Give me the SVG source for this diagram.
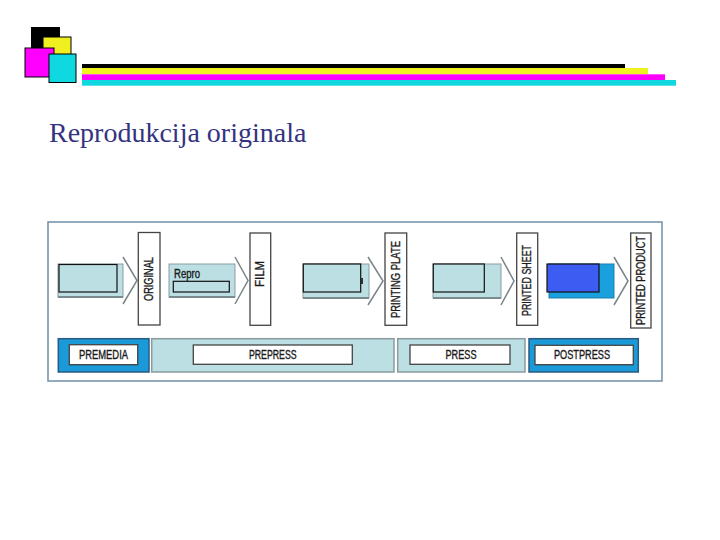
<svg xmlns="http://www.w3.org/2000/svg" width="720" height="540" viewBox="0 0 720 540">
<style>
.lbl{font-family:"Liberation Sans Narrow","Liberation Sans",Arial,sans-serif;font-size:12px;fill:#1a1a1a;stroke:#1a1a1a;stroke-width:0.35;}
.vbox{fill:#fff;stroke:#444;stroke-width:1.3;}
.ibox{fill:#fff;stroke:#444;stroke-width:1.3;}
.body{fill:#bcdfe4;stroke:#8a9ca0;stroke-width:1;}
.bodyb{fill:#1aa0dc;stroke:#1a80b0;stroke-width:1;}
.chev{fill:none;stroke:#7a8488;stroke-width:1.5;}
.red{fill:#bcdfe4;stroke:#111;stroke-width:1.2;}
.bandl{fill:#bcdfe4;stroke:#8a9a9e;stroke-width:1.5;}
.bandb{fill:#1a9ad8;stroke:#2a5a80;stroke-width:1.5;}
</style>
<rect width="720" height="540" fill="#fff"/>
<g id="logo">
<rect x="31" y="27" width="29" height="22" fill="#000"/>
<rect x="43" y="37" width="28" height="18" fill="#f0f020" stroke="#000" stroke-width="1"/>
<rect x="25" y="48" width="29" height="29" fill="#ff00ff" stroke="#000" stroke-width="1"/>
<rect x="49" y="54" width="27" height="28.5" fill="#10d8e0" stroke="#000" stroke-width="1"/>
<rect x="82" y="64" width="543" height="4" fill="#000"/>
<rect x="82" y="68" width="566" height="6.3" fill="#f0f020"/>
<rect x="82" y="74.3" width="583" height="5.7" fill="#ff00ff"/>
<rect x="82" y="80" width="594" height="5.7" fill="#10d8e0"/>
</g>
<text id="title" x="49" y="142" font-family="'Liberation Serif','Times New Roman',serif" font-size="28" fill="#333380">Reprodukcija originala</text>
<g id="frame">
<rect x="48" y="222" width="614" height="159" fill="#fff" stroke="#6f8ea6" stroke-width="1.5"/>
</g>
<g id="connectors">
<g id="arrow1">
<rect class="body" x="58" y="264" width="65" height="33"/>
<line x1="58" y1="297" x2="123" y2="297" stroke="#7a8a8e" stroke-width="2"/>
<polyline class="chev" points="123,257 137,280.5 123,304"/>
<rect class="red" x="59" y="264.5" width="58" height="27.5"/>
</g>
<g id="arrow2">
<rect class="body" x="169" y="264" width="66" height="33"/>
<line x1="169" y1="297" x2="235" y2="297" stroke="#7a8a8e" stroke-width="2"/>
<polyline class="chev" points="235,257 248,280.5 235,304"/>
<text class="lbl" x="174" y="277.5" textLength="26" lengthAdjust="spacingAndGlyphs">Repro</text>
<rect class="red" x="173.3" y="281.3" width="56" height="10.7"/>
</g>
<g id="arrow3">
<rect class="body" x="303" y="264" width="66" height="34"/>
<line x1="303" y1="298" x2="369" y2="298" stroke="#7a8a8e" stroke-width="2"/>
<polyline class="chev" points="368,257 383,281 368,305"/>
<rect class="red" x="303.3" y="264" width="57.4" height="28"/>
<rect x="361" y="278" width="2" height="6" fill="#333"/>
</g>
<g id="arrow4">
<rect class="body" x="433" y="264" width="68" height="34"/>
<line x1="433" y1="298" x2="501" y2="298" stroke="#7a8a8e" stroke-width="2"/>
<polyline class="chev" points="501,257 514,281 501,305"/>
<rect class="red" x="433.3" y="264" width="51" height="28"/>
</g>
<g id="arrow5">
<rect class="bodyb" x="549" y="264" width="65" height="34"/>
<polyline class="chev" points="614,257 628,281 614,305"/>
<rect x="547" y="264" width="52" height="28" fill="#3d5cf2" stroke="#111" stroke-width="1.2"/>
</g>
</g>
<g id="node-original">
<rect class="vbox" x="138.3" y="232.5" width="21.7" height="92.5"/>
<text class="lbl" transform="translate(149.3,279) rotate(-90)" text-anchor="middle" dominant-baseline="central" textLength="44" lengthAdjust="spacingAndGlyphs">ORIGINAL</text>
</g>
<g id="node-film">
<rect class="vbox" x="250" y="233" width="20.7" height="92.3"/>
<text class="lbl" transform="translate(260.3,274) rotate(-90)" text-anchor="middle" dominant-baseline="central" textLength="26" lengthAdjust="spacingAndGlyphs">FILM</text>
</g>
<g id="node-printing-plate">
<rect class="vbox" x="385" y="233" width="21.7" height="92.3"/>
<text class="lbl" transform="translate(396,279.5) rotate(-90)" text-anchor="middle" dominant-baseline="central" textLength="77" lengthAdjust="spacingAndGlyphs">PRINTING PLATE</text>
</g>
<g id="node-printed-sheet">
<rect class="vbox" x="516.7" y="233" width="21" height="92.3"/>
<text class="lbl" transform="translate(527.2,280.5) rotate(-90)" text-anchor="middle" dominant-baseline="central" textLength="71" lengthAdjust="spacingAndGlyphs">PRINTED SHEET</text>
</g>
<g id="node-printed-product">
<rect class="vbox" x="630.7" y="233" width="20.3" height="95"/>
<text class="lbl" transform="translate(640.8,280.5) rotate(-90)" text-anchor="middle" dominant-baseline="central" textLength="89" lengthAdjust="spacingAndGlyphs">PRINTED PRODUCT</text>
</g>
<g id="band-premedia">
<rect class="bandb" x="58.3" y="338.7" width="90.7" height="33.3"/>
<rect class="ibox" x="69.3" y="344.7" width="68.4" height="20"/>
<text class="lbl" x="103.5" y="355" text-anchor="middle" dominant-baseline="central" textLength="49" lengthAdjust="spacingAndGlyphs">PREMEDIA</text>
</g>
<g id="band-prepress">
<rect class="bandl" x="151.7" y="338.7" width="242.3" height="33.3"/>
<rect class="ibox" x="193.3" y="345" width="159" height="19.3"/>
<text class="lbl" x="272.8" y="355" text-anchor="middle" dominant-baseline="central" textLength="47.7" lengthAdjust="spacingAndGlyphs">PREPRESS</text>
</g>
<g id="band-press">
<rect class="bandl" x="397.7" y="338.7" width="127.3" height="33.3"/>
<rect class="ibox" x="410" y="345" width="100" height="19.3"/>
<text class="lbl" x="461" y="355" text-anchor="middle" dominant-baseline="central" textLength="31" lengthAdjust="spacingAndGlyphs">PRESS</text>
</g>
<g id="band-postpress">
<rect class="bandb" x="529" y="338.7" width="109.3" height="33.3"/>
<rect class="ibox" x="535" y="345.3" width="98.3" height="19.4"/>
<text class="lbl" x="582" y="355" text-anchor="middle" dominant-baseline="central" textLength="56" lengthAdjust="spacingAndGlyphs">POSTPRESS</text>
</g>
</svg>
